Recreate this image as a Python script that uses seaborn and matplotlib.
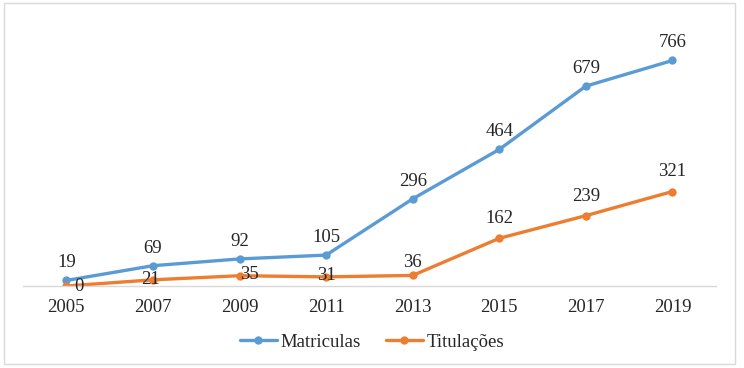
import matplotlib
matplotlib.use('Agg')
import matplotlib.pyplot as plt
from matplotlib.patches import Rectangle
import seaborn as sns
import pandas as pd

anos = [2005, 2007, 2009, 2011, 2013, 2015, 2017, 2019]
matriculas = [19, 69, 92, 105, 296, 464, 679, 766]
titulacoes = [0, 21, 35, 31, 36, 162, 239, 321]
series = ['Matriculas', 'Titulações']
cores = ['#5B9BD5', '#ED7D31']

df = pd.DataFrame({
    'Ano': anos * 2,
    'Valor': matriculas + titulacoes,
    'Serie': [series[0]] * len(anos) + [series[1]] * len(anos),
})

sns.set_style('white')
plt.rcParams['font.family'] = ['Liberation Serif', 'DejaVu Serif']

fig = plt.figure(figsize=(7.44, 3.68), dpi=100)
ax = fig.add_axes([0.031, 0.2228, 0.931, 0.720])

sns.lineplot(data=df, x='Ano', y='Valor', hue='Serie', palette=cores,
             marker='o', markersize=6, markeredgewidth=0, linewidth=2.4,
             ax=ax)

fs = 13.5
ax.set_xlim(2004, 2020)
ax.set_ylim(0, 900)
ax.set_xticks(anos)
ax.set_xticklabels([str(a) for a in anos], fontsize=fs)
ax.set_yticks([])
ax.set_xlabel('')
ax.set_ylabel('')
ax.tick_params(axis='x', length=0, pad=9)
for s in ['top', 'right', 'left']:
    ax.spines[s].set_visible(False)
ax.spines['bottom'].set_color('#D9D9D9')
ax.spines['bottom'].set_linewidth(1)

# rótulos de dados
for x, v in zip(anos, matriculas):
    ax.annotate(str(v), (x, v), xytext=(0, 6.5), textcoords='offset points',
                ha='center', va='bottom', fontsize=fs)
off_tit = [(9, 0), (-2, 0), (7, 1), (0, 1), (0, 3), (0, 8), (0, 8), (0, 8)]
for (x, v), (dx, dy) in zip(zip(anos, titulacoes), off_tit):
    va = 'bottom' if dy > 2 else 'center'
    ax.annotate(str(v), (x, v), xytext=(dx, dy), textcoords='offset points',
                ha='center', va=va, fontsize=fs)

handles, labels = ax.get_legend_handles_labels()
ax.get_legend().remove()
fig.legend(handles, labels, loc='center', bbox_to_anchor=(0.5, 0.07),
           ncol=2, frameon=False, fontsize=fs, handlelength=2.0,
           handletextpad=0.2, columnspacing=1.3)

fig.patches.append(Rectangle((0.0054, 0.0109), 0.9825, 0.981,
                             transform=fig.transFigure, fill=False,
                             edgecolor='#D9D9D9', linewidth=1))

fig.savefig('out.png', dpi=100)
